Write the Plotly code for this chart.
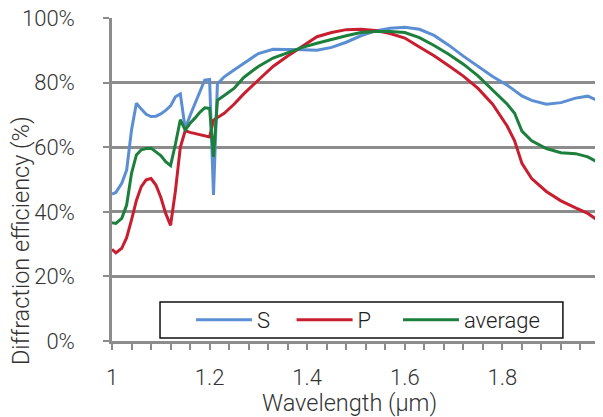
import plotly.graph_objects as go

wavelength = [1.000, 1.008, 1.020, 1.030, 1.040, 1.050, 1.060, 1.070, 1.080, 1.090,
              1.100, 1.110, 1.120, 1.130, 1.140, 1.150, 1.160, 1.170, 1.180, 1.190,
              1.200, 1.208, 1.216, 1.230, 1.250, 1.270, 1.300, 1.330, 1.360, 1.390,
              1.420, 1.450, 1.480, 1.510, 1.540, 1.570, 1.600, 1.630, 1.660, 1.690,
              1.720, 1.750, 1.780, 1.810, 1.825, 1.840, 1.860, 1.890, 1.920, 1.950,
              1.975, 2.000]

S = [45.5, 46.0, 48.8, 52.9, 65.3, 73.6, 71.8, 70.2, 69.5, 69.6,
     70.3, 71.4, 72.8, 75.6, 76.5, 65.8, 69.8, 73.5, 77.5, 80.8,
     81.0, 45.2, 79.6, 81.8, 83.9, 86.0, 89.0, 90.3, 90.3, 90.2,
     90.0, 90.9, 92.5, 94.5, 96.0, 96.8, 97.1, 96.5, 94.6, 91.6,
     88.2, 85.1, 81.9, 79.2, 77.5, 75.9, 74.5, 73.3, 73.8, 75.2,
     75.8, 74.1]

P = [28.4, 27.3, 28.7, 32.0, 37.5, 43.5, 47.8, 49.9, 50.3, 48.3,
     44.5, 39.5, 35.8, 46.5, 60.0, 65.1, 64.6, 64.3, 64.0, 63.6,
     63.2, 68.4, 69.2, 70.5, 73.3, 76.5, 80.8, 85.0, 88.2, 91.3,
     94.2, 95.5, 96.4, 96.5, 96.1, 95.2, 93.8, 91.0, 88.3, 85.2,
     82.0, 78.2, 73.3, 66.5, 62.0, 55.0, 50.3, 46.3, 43.4, 41.2,
     39.5, 36.9]

average = [36.6, 36.4, 38.0, 42.1, 51.9, 57.6, 59.2, 59.6, 59.7, 58.6,
           57.4, 55.5, 54.3, 61.0, 68.5, 65.3, 67.4, 69.0, 70.8, 72.2,
           72.0, 57.0, 74.5, 76.0, 78.2, 81.6, 85.0, 87.6, 89.3, 90.9,
           92.2, 93.4, 94.5, 95.5, 95.8, 95.8, 95.5, 93.9, 91.5, 88.8,
           85.7, 82.1, 77.8, 73.3, 70.5, 65.0, 62.0, 59.6, 58.3, 58.0,
           57.0, 55.0]

series_names = ["S", "P", "average"]
series_colors = ["#5B8ED3", "#C81E30", "#1C7F3C"]
x_ticks = [1.0, 1.2, 1.4, 1.6, 1.8, 2.0]
x_tick_labels = ["1", "1.2", "1.4", "1.6", "1.8", "2"]
y_ticks = [0, 20, 40, 60, 80, 100]
y_tick_labels = ["0%", "20%", "40%", "60%", "80%", "100%"]

FONT = "Roboto"
GRAY = "#8C8C8C"
TXT = "#333333"
legend_ids = ["legend", "legend2", "legend3"]
legend_x = [0.162, 0.368, 0.586]

fig = go.Figure()
for name, vals, col, lid in zip(series_names, [S, P, average], series_colors, legend_ids):
    fig.add_trace(go.Scatter(x=wavelength, y=vals, mode="lines", name=name,
                             legend=lid, line=dict(color=col, width=3)))

legend_common = dict(y=0.065, xanchor="left", yanchor="middle",
                     bgcolor="rgba(0,0,0,0)", borderwidth=0, itemwidth=56,
                     font=dict(family=FONT, size=22, color="#222222", weight=300))
layout_legends = {lid: dict(x=lx, **legend_common) for lid, lx in zip(legend_ids, legend_x)}

# page body has an 8px margin, so the figure is sized/offset to compensate
fig.update_layout(
    width=595, height=409,
    margin=dict(l=104, r=3, t=10, b=76),
    paper_bgcolor="white", plot_bgcolor="white",
    font=dict(family=FONT, size=22, color=TXT, weight=300),
    showlegend=True,
    **layout_legends,
    xaxis=dict(range=[1, 2], tickvals=x_ticks, ticktext=x_tick_labels,
               automargin=False, ticklabeloverflow="allow",
               showgrid=False, zeroline=False,
               showline=True, linecolor=GRAY, linewidth=2.5,
               ticks="outside", ticklen=6, tickwidth=2, tickcolor=GRAY,
               minor=dict(dtick=0.04, tick0=1, ticks="outside", ticklen=6,
                          tickwidth=2, tickcolor=GRAY, showgrid=False),
               ticklabelstandoff=9),
    yaxis=dict(range=[0, 100], tickvals=y_ticks, ticktext=y_tick_labels,
               automargin=False, ticklabeloverflow="allow",
               showgrid=True, gridcolor=GRAY, gridwidth=2.5,
               zeroline=False, showline=True, linecolor=GRAY, linewidth=2.5,
               ticks="outside", ticklen=6, tickwidth=2, tickcolor=GRAY,
               ticklabelstandoff=24),
)

# legend frame
fig.add_shape(type="rect", xref="paper", yref="paper", x0=0.0984, x1=0.924,
              y0=0.0093, y1=0.1207, line=dict(color="#111111", width=1.5),
              fillcolor="white", layer="above")

fig.add_annotation(text="Wavelength (µm)",
                   xref="paper", yref="paper", x=0.486, y=-0.192,
                   xanchor="center", yanchor="middle", showarrow=False,
                   font=dict(family=FONT, size=23.5, color=TXT, weight=300))

fig.add_annotation(text="Diffraction efficiency (%)", textangle=-90,
                   xref="paper", yref="paper", x=-0.186, y=0.31,
                   xanchor="center", yanchor="middle", showarrow=False,
                   font=dict(family=FONT, size=23.5, color=TXT, weight=300))

fig.write_html("out.html")
